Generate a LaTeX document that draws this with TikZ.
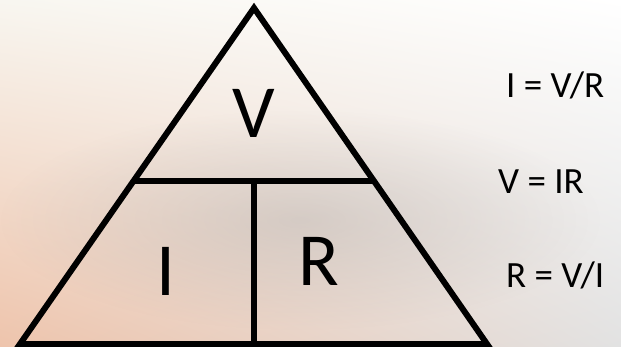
\documentclass[tikz,border=0pt]{standalone}
\usepackage{fontspec}
\setmainfont{Carlito}
\usetikzlibrary{calc,shadings,fadings}
\definecolor{peach}{RGB}{238,196,172}
\definecolor{paper}{RGB}{248,246,240}
\definecolor{mist}{RGB}{226,226,226}
\tikzfading[name=softblob,inner color=transparent!0,outer color=transparent!100]
\begin{document}
\begin{tikzpicture}[x=1pt,y=-1pt,
    edge/.style={line width=6pt,line join=miter,line cap=butt},
    big/.style={font=\fontsize{75}{75}\selectfont,inner sep=0pt,anchor=base},
    rule/.style={font=\fontsize{37}{37}\selectfont,inner sep=0pt,anchor=base west}]
    \useasboundingbox (0,0) rectangle (621,346);
    % background
    \shade[lower left=peach,upper left=paper,
           upper right=white,lower right=mist] (0,0) rectangle (621,346);
    \fill[gray!80,opacity=0.3,path fading=softblob]
        (300,220) ellipse (300pt and 110pt);
    \coordinate (top) at (254,8);
    \coordinate (bl) at (20,344);
    \coordinate (br) at (487,344);
    \coordinate (ml) at ($(top)!0.515!(bl)$);
    \coordinate (mr) at ($(top)!0.515!(br)$);
    \coordinate (mm) at (254,181);
    \coordinate (bm) at (254,344);
    \draw[edge] (top) -- (bl) -- (br) -- cycle;
    \draw[edge] (ml) -- (mr);
    \draw[edge] (mm) -- (bm);
    \node[big] (v) at (254,137) {V};
    \node[big] (i) at (166,295) {I};
    \node[big] (r) at (319,285) {R};
    \node[rule] (ivr) at (506,97) {I = V/R};
    \node[rule] (vir) at (498,193) {V = IR};
    \node[rule] (rvi) at (506,287) {R = V/I};
\end{tikzpicture}
\end{document}
